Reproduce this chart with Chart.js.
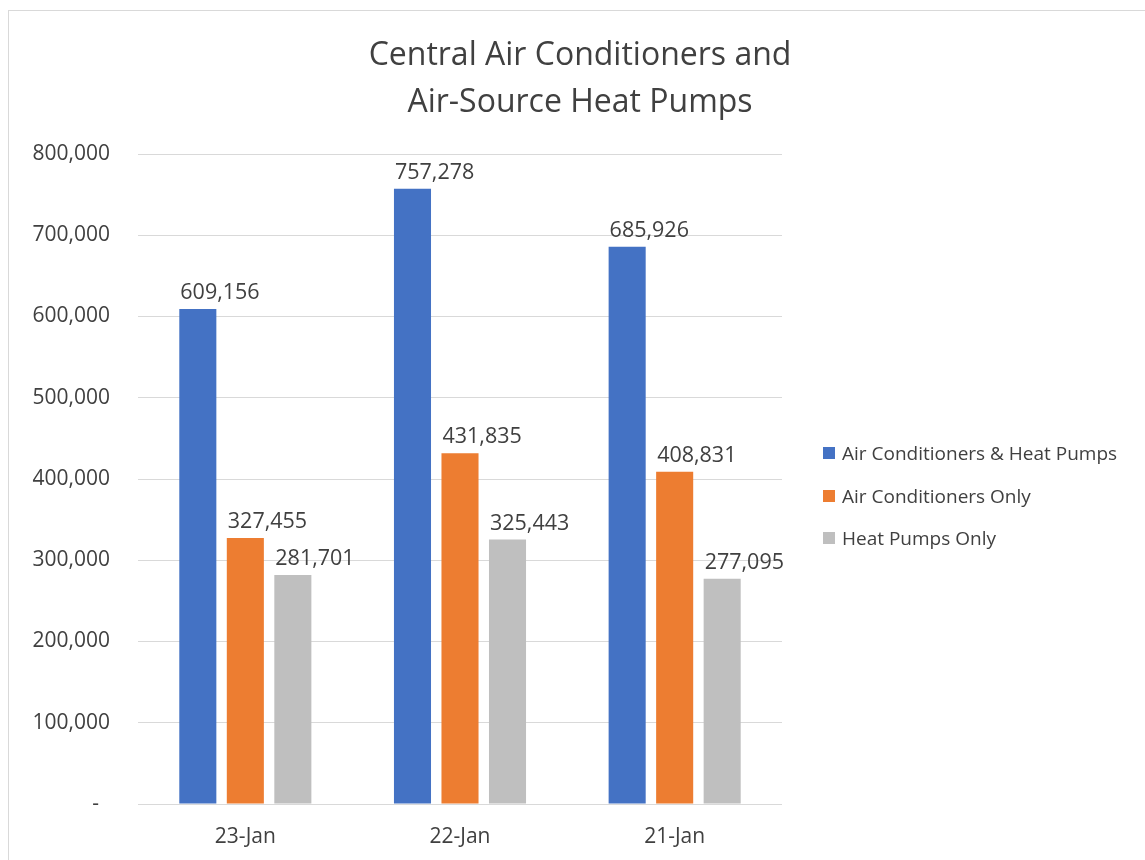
<!DOCTYPE html>
<html>
<head>
<meta charset="utf-8">
<script src="https://cdn.jsdelivr.net/npm/chart.js@4.4.1/dist/chart.umd.min.js"></script>
<style>
  html, body { margin: 0; padding: 0; background: #fff; overflow: hidden; }
  #frame { position: absolute; left: 8px; top: 10px; width: 1200px; height: 900px; border: 1px solid #d9d9d9; box-sizing: border-box; }
  #wrap { position: absolute; left: 0; top: 0; width: 1145px; height: 860px; }
  #legend { position: absolute; left: 823px; top: 441px; font-family: "Open Sans", sans-serif; font-size: 19px; color: #404040; }
  .li { display: flex; align-items: center; height: 24px; margin-bottom: 18.5px; white-space: nowrap; }
  .sw { width: 12px; height: 12px; margin-right: 7px; flex: none; }
</style>
</head>
<body>
<div id="frame"></div>
<div id="wrap"><canvas id="c" width="1145" height="860"></canvas></div>
<div id="legend"></div>
<script>
const titleLines = ["Central Air Conditioners and", "Air-Source Heat Pumps"];
const categories = ["23-Jan", "22-Jan", "21-Jan"];
const seriesNames = ["Air Conditioners & Heat Pumps", "Air Conditioners Only", "Heat Pumps Only"];
const acAndHp = [609156, 757278, 685926];
const acOnly = [327455, 431835, 408831];
const hpOnly = [281701, 325443, 277095];
const seriesColors = ["#4472C4", "#ED7D31", "#BFBFBF"];
const yMin = 0, yMax = 800000, yStep = 100000;

const FONT = '"Open Sans", sans-serif';
const TXT = '#404040';

const fmt = v => v.toLocaleString('en-US');

const dataLabels = {
  id: 'dataLabels',
  afterDatasetsDraw(chart) {
    const ctx = chart.ctx;
    ctx.save();
    ctx.font = '21.5px ' + FONT;
    ctx.fillStyle = TXT;
    ctx.textAlign = 'left';
    ctx.textBaseline = 'alphabetic';
    chart.data.datasets.forEach((ds, di) => {
      const meta = chart.getDatasetMeta(di);
      meta.data.forEach((bar, i) => {
        const left = bar.x - bar.width / 2 + 1;
        ctx.fillText(fmt(ds.data[i]), left, bar.y - 10);
      });
    });
    ctx.restore();
  }
};

const datasets = [acAndHp, acOnly, hpOnly].map((d, i) => ({
  label: seriesNames[i],
  data: d,
  backgroundColor: seriesColors[i],
  borderWidth: 0,
  categoryPercentage: 0.664,
  barPercentage: 0.78,
  yAxisID: 'y'
}));

const chart = new Chart(document.getElementById('c'), {
  type: 'bar',
  data: { labels: categories, datasets },
  plugins: [dataLabels],
  options: {
    responsive: false,
    animation: false,
    devicePixelRatio: 1,
    layout: { padding: { left: 15, right: 0, top: 0, bottom: 0 } },
    plugins: {
      legend: { display: false },
      tooltip: { enabled: false },
      title: {
        display: true,
        text: titleLines,
        color: TXT,
        font: { family: FONT, size: 32, weight: 'normal', lineHeight: 47 / 32 },
        padding: { top: 32.5, bottom: 27.5 }
      }
    },
    scales: {
      x: {
        grid: { display: false },
        border: { display: false },
        ticks: { color: TXT, font: { family: FONT, size: 21 }, padding: 12 },
        afterFit(s) { s.height = 56; }
      },
      y: {
        min: yMin, max: yMax,
        grid: { color: '#d9d9d9', lineWidth: 1, drawTicks: false },
        border: { display: false },
        ticks: {
          stepSize: yStep,
          color: TXT,
          font: { family: FONT, size: 21 },
          padding: 28,
          callback: v => v === 0 ? '-  ' : fmt(v)
        },
        afterFit(s) { s.width = 123; }
      },
      yR: {
        position: 'right',
        display: true,
        grid: { display: false },
        border: { display: false },
        ticks: { display: false },
        afterFit(s) { s.width = 363; }
      }
    }
  }
});

// HTML legend generated from the chart's datasets
const lg = document.getElementById('legend');
chart.data.datasets.forEach(ds => {
  const row = document.createElement('div');
  row.className = 'li';
  const sw = document.createElement('span');
  sw.className = 'sw';
  sw.style.background = ds.backgroundColor;
  const t = document.createElement('span');
  t.textContent = ds.label;
  row.appendChild(sw); row.appendChild(t);
  lg.appendChild(row);
});
</script>
</body>
</html>
